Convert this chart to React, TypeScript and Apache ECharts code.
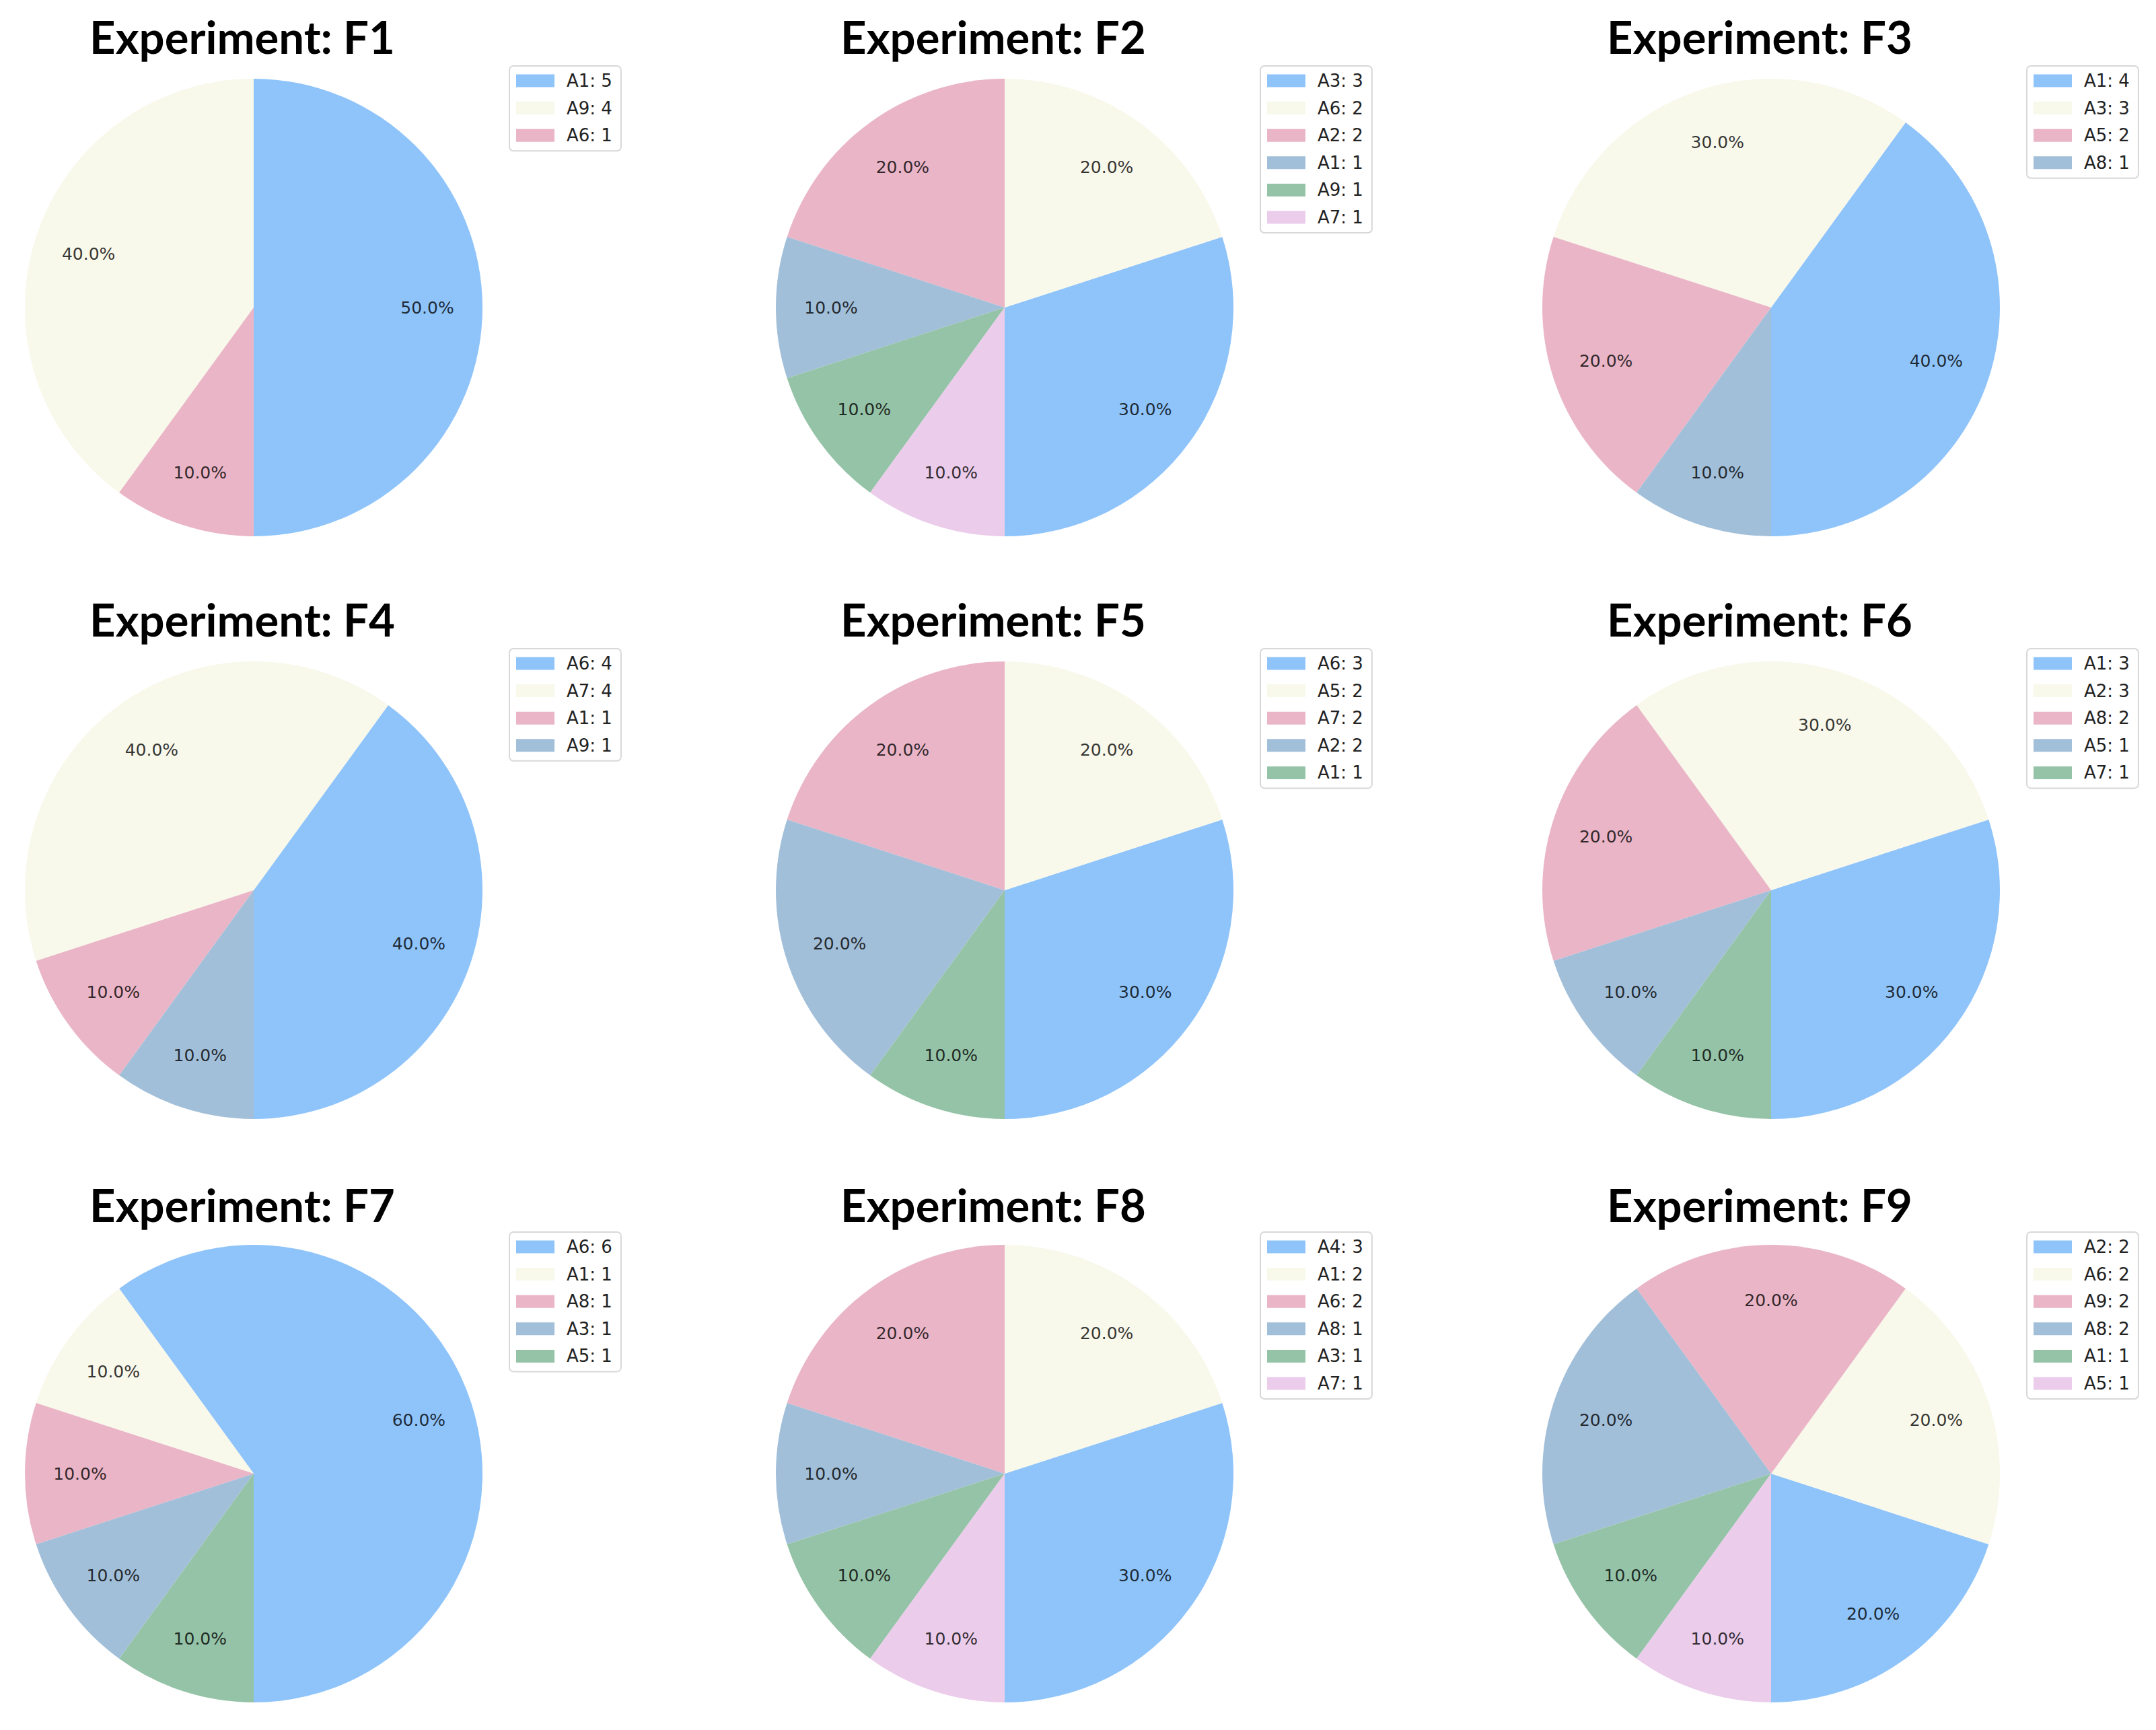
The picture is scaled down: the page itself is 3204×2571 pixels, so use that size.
import React, { useEffect, useRef } from "react";
import * as echarts from "echarts";

// ---- data ----
const experiments = ["F1", "F2", "F3", "F4", "F5", "F6", "F7", "F8", "F9"];

const f1Names = ["A1", "A9", "A6"];
const f1Values = [5, 4, 1];
const f2Names = ["A3", "A6", "A2", "A1", "A9", "A7"];
const f2Values = [3, 2, 2, 1, 1, 1];
const f3Names = ["A1", "A3", "A5", "A8"];
const f3Values = [4, 3, 2, 1];
const f4Names = ["A6", "A7", "A1", "A9"];
const f4Values = [4, 4, 1, 1];
const f5Names = ["A6", "A5", "A7", "A2", "A1"];
const f5Values = [3, 2, 2, 2, 1];
const f6Names = ["A1", "A2", "A8", "A5", "A7"];
const f6Values = [3, 3, 2, 1, 1];
const f7Names = ["A6", "A1", "A8", "A3", "A5"];
const f7Values = [6, 1, 1, 1, 1];
const f8Names = ["A4", "A1", "A6", "A8", "A3", "A7"];
const f8Values = [3, 2, 2, 1, 1, 1];
const f9Names = ["A2", "A6", "A9", "A8", "A1", "A5"];
const f9Values = [2, 2, 2, 2, 1, 1];

const allNames = [f1Names, f2Names, f3Names, f4Names, f5Names, f6Names, f7Names, f8Names, f9Names];
const allValues = [f1Values, f2Values, f3Values, f4Values, f5Values, f6Values, f7Values, f8Values, f9Values];

const sliceColors = ["#8FC4FA", "#F8F8EB", "#EAB5C6", "#A2BFD9", "#95C3A7", "#EBCCEB"];

// ---- layout ----
const W = 3204;
const H = 2571;
const colCenters = [377, 1493, 2632];
const rowCenters = [457, 1323, 2190];
const titleRowY = [54, 920, 1790];
const R = 340;

export default function App() {
  const ref = useRef<HTMLDivElement>(null);

  useEffect(() => {
    document.body.style.margin = "0";
    if (!ref.current) return;
    const chart = echarts.init(ref.current, undefined, { renderer: "svg" });

    const valueMap: Record<string, number> = {};
    const series: any[] = [];
    const legends: any[] = [];
    const graphics: any[] = [];

    experiments.forEach((exp, i) => {
      const cx = colCenters[i % 3];
      const cy = rowCenters[Math.floor(i / 3)];
      const names = allNames[i];
      const vals = allValues[i];
      const data = names.map((n, j) => {
        const key = `${exp}|${n}`;
        valueMap[key] = vals[j];
        return { name: key, value: vals[j], itemStyle: { color: sliceColors[j] } };
      });
      series.push({
        type: "pie",
        center: [cx, cy],
        radius: R,
        startAngle: 270,
        clockwise: false,
        silent: true,
        label: { show: false },
        labelLine: { show: false },
        emphasis: { disabled: true },
        itemStyle: { borderWidth: 0 },
        data,
      });
      series.push({
        type: "pie",
        center: [cx, cy],
        radius: [R * 0.5, R],
        startAngle: 270,
        clockwise: false,
        silent: true,
        emphasis: { disabled: true },
        itemStyle: { color: "rgba(0,0,0,0)", borderWidth: 0 },
        label: {
          show: true,
          position: "inside",
          fontFamily: "DejaVu Sans",
          fontSize: 25,
          color: "rgba(0,0,0,0.8)",
          formatter: (p: any) => p.percent.toFixed(1) + "%",
        },
        labelLine: { show: false },
        data: names.map((n, j) => ({ name: `lbl|${exp}|${n}`, value: vals[j] })),
      });
      legends.push({
        orient: "vertical",
        left: colCenters[i % 3] + 380,
        top: cy - 359,
        data: names.map((n) => `${exp}|${n}`),
        icon: "rect",
        itemWidth: 57,
        itemHeight: 19,
        itemGap: 14.6,
        padding: [9, 13, 10, 10],
        borderColor: "#d8d8d8",
        borderWidth: 2,
        borderRadius: 6,
        backgroundColor: "#ffffff",
        selectedMode: false,
        textStyle: {
          fontFamily: "DejaVu Sans",
          fontSize: 26,
          lineHeight: 26,
          color: "#222",
          padding: [0, 0, 0, 13],
        },
        formatter: (name: string) => `${name.split("|")[1]}: ${valueMap[name]}`,
      });
      graphics.push({
        type: "text",
        x: cx - 17,
        y: titleRowY[Math.floor(i / 3)],
        style: {
          text: `Experiment: ${exp}`,
          fontFamily: "Lato",
          fontWeight: "bold",
          fontSize: 67,
          fill: "#000",
          textAlign: "center",
          textVerticalAlign: "middle",
        },
      });
    });

    chart.setOption({
      animation: false,
      backgroundColor: "#ffffff",
      legend: legends,
      series,
      graphic: graphics,
    });

    return () => chart.dispose();
  }, []);

  return <div ref={ref} style={{ width: W, height: H }} />;
}
